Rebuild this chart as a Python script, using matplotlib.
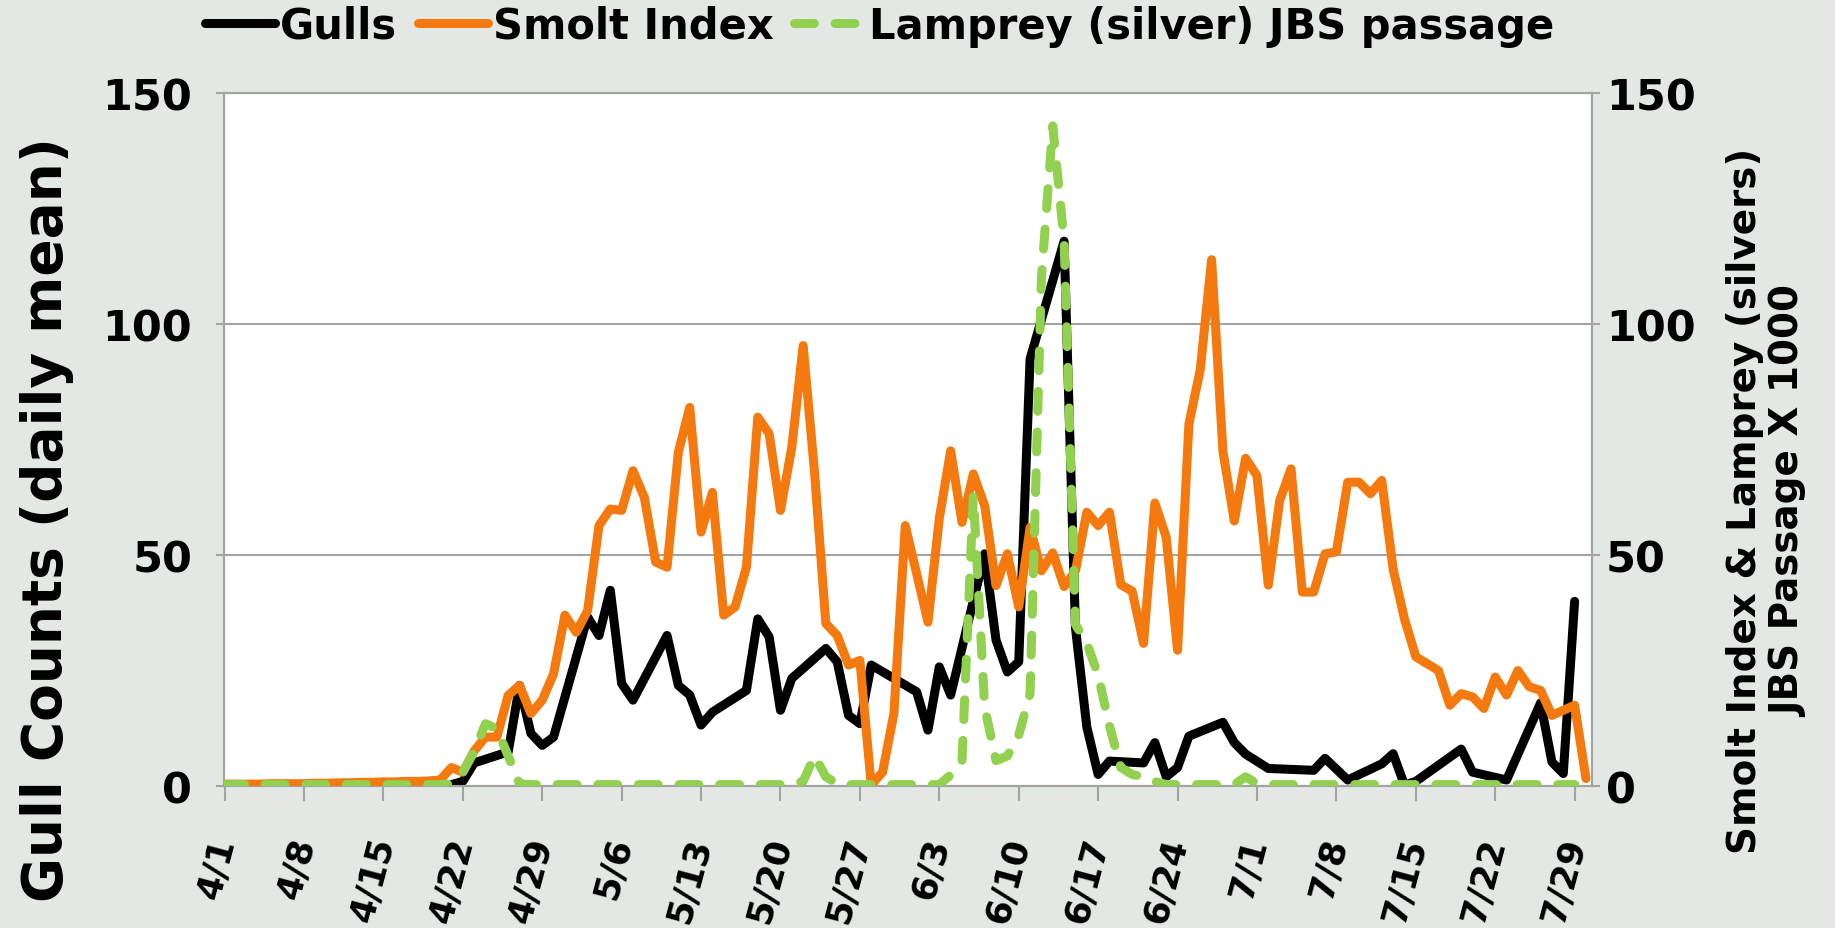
import matplotlib.pyplot as plt
from matplotlib.lines import Line2D

# ================================================
# Data (day 0 = 4/1, one value per day)
# ================================================
tick_days = list(range(0, 120, 7))
tick_labels = ['4/1', '4/8', '4/15', '4/22', '4/29', '5/6', '5/13', '5/20', '5/27',
               '6/3', '6/10', '6/17', '6/24', '7/1', '7/8', '7/15', '7/22', '7/29']

# Smolt index, 4/1 .. 7/30
smolt = [0.4, 0.4, 0.4, 0.4, 0.5, 0.5, 0.5, 0.5, 0.6, 0.6,
         0.7, 0.7, 0.8, 0.8, 0.9, 0.9, 1.0, 1.0, 1.1, 1.3,
         4.0, 3.0, 7.6, 10.6, 10.6, 19.6, 21.8, 15.7, 18.6, 24.3,
         37.0, 33.3, 38.0, 56.4, 60.0, 59.7, 68.3, 62.5, 48.5, 47.4,
         72.3, 82.0, 55.0, 63.6, 37.0, 38.8, 47.4, 79.9, 76.3, 59.7,
         73.4, 95.4, 68.0, 35.2, 32.6, 26.2, 27.2, 0.2, 3.0, 15.7,
         56.4, 46.0, 35.5, 58.0, 72.6, 57.1, 67.6, 60.7, 43.4, 50.3,
         38.8, 56.0, 46.6, 50.5, 43.2, 46.6, 59.3, 56.4, 59.3, 43.6,
         42.2, 30.9, 61.3, 53.9, 29.4, 78.4, 90.2, 114.0, 72.5, 57.4,
         71.0, 67.2, 43.5, 61.8, 68.7, 42.0, 42.0, 50.3, 50.7, 65.8,
         65.8, 63.3, 66.2, 47.0, 36.2, 28.0, 26.5, 25.0, 17.5, 20.0,
         19.3, 16.8, 23.6, 19.7, 25.0, 21.5, 20.7, 15.3, 16.4, 17.5,
         1.6]

# Lamprey (silver) JBS passage x 1000, 4/1 .. 7/29
lamprey = [0.3] * 20 + [
    0.5, 3.0, 7.5, 13.5, 12.4, 6.5, 0.5, 0.3, 0.3, 0.3,
    0.3, 0.3, 0.3, 0.3, 0.3, 0.3, 0.3, 0.3, 0.3, 0.3,
    0.3, 0.3, 0.3, 0.3, 0.3, 0.3, 0.3, 0.3, 0.3, 0.3,
    0.5, 1.0, 6.5, 2.0, 0.5, 0.3, 0.3, 0.3, 0.3, 0.3,
    0.3, 0.3, 0.3, 0.3, 2.4, 5.4, 63.0, 17.0, 5.5, 6.5,
    11.0, 20.0, 110.0, 143.0, 118.0, 35.0, 31.0, 24.0, 13.0, 4.0,
    2.5, 2.0, 1.0, 0.3, 0.3, 0.3, 0.3, 0.3, 0.3, 0.3,
    2.0, 0.5] + [0.3] * 28

# Gulls (daily mean); days without a count are skipped
gull_days = [19, 20, 21, 22, 25, 26, 27, 28, 29, 32, 33, 34, 35, 36, 39, 40, 41, 42,
             43, 46, 47, 48, 49, 50, 53, 54, 55, 56, 57, 61, 62, 63, 64, 67, 68, 69,
             70, 71, 72, 74, 75, 76, 77, 78, 81, 82, 83, 84, 85, 88, 89, 90, 92, 96,
             97, 99, 102, 103, 104, 105, 109, 110, 113, 116, 117, 118, 119]
gull_counts = [0.0, 0.3, 1.0, 5.0, 7.4, 21.8, 11.4, 8.8, 10.6, 36.6, 32.6, 42.4, 22.2,
               18.6, 32.6, 21.8, 19.7, 13.2, 16.0, 20.7, 36.2, 32.3, 16.4, 23.3, 29.8,
               26.9, 15.3, 13.5, 26.2, 20.4, 12.1, 25.8, 19.7, 50.3, 31.6, 24.7, 26.9,
               92.5, 101.0, 118.0, 34.3, 12.8, 2.5, 5.4, 5.0, 9.4, 2.0, 4.0, 10.8, 13.8,
               9.4, 6.9, 3.8, 3.4, 6.0, 1.3, 4.8, 7.0, 0.2, 1.0, 8.0, 3.0, 1.3, 18.0,
               5.2, 2.7, 40.0]

# ================================================
# Figure
# ================================================
plt.rcParams['font.family'] = ['DejaVu Sans']
plt.rcParams['font.weight'] = 'bold'

GREY = '#a3a3a3'
BLACK = '#000000'
ORANGE = '#f47a10'
GREEN = '#92d050'
LW = 6.5

fig = plt.figure(figsize=(18.35, 9.29), dpi=100)
fig.patch.set_facecolor('#e3e8e5')

ax = fig.add_axes([0.12207, 0.15285, 0.74550, 0.74543])
ax2 = ax.twinx()

ax.plot(gull_days, gull_counts, color=BLACK, lw=LW,
        solid_joinstyle='round', solid_capstyle='round', zorder=2)
ax2.plot(range(len(smolt)), smolt, color=ORANGE, lw=LW,
         solid_joinstyle='round', solid_capstyle='round', zorder=3)
ax2.plot(range(len(lamprey)), lamprey, color=GREEN, lw=LW, dashes=(2.2, 2.3),
         dash_capstyle='round', dash_joinstyle='round', zorder=4)

for a in (ax, ax2):
    a.set_xlim(-0.05, 120.53)
    a.set_ylim(0, 150)
    a.set_yticks([0, 50, 100, 150])
    for s in a.spines.values():
        s.set_color(GREY)
        s.set_linewidth(1.5)

ax.set_facecolor('white')
ax.set_axisbelow(True)
ax.grid(axis='y', color=GREY, lw=1.5)

ax.set_xticks(tick_days)
ax.set_xticklabels(tick_labels)
ax.tick_params(axis='x', direction='out', length=11, width=1.5, color=GREY,
               labelsize=25.5, pad=26)
for lab in ax.get_xticklabels():
    lab.set_fontweight('bold')
    lab.set_rotation(75)
    lab.set_rotation_mode('anchor')
    lab.set_ha('right')
    lab.set_va('center')

ax.tick_params(axis='y', direction='out', length=6, width=1.5, color=GREY,
               labelsize=31, pad=17)
ax2.tick_params(axis='y', direction='out', length=6, width=1.5, color=GREY,
                labelsize=31, pad=4)
for lab in ax.get_yticklabels() + ax2.get_yticklabels():
    lab.set_fontweight('bold')

# axis titles
fig.text(0.0256, 0.4403, 'Gull Counts (daily mean)', rotation=90,
         ha='center', va='center', fontsize=39.5, fontweight='bold')
fig.text(0.963, 0.4607, 'Smolt Index & Lamprey (silvers)\nJBS Passage X 1000',
         rotation=90, ha='center', va='center', multialignment='center',
         fontsize=28, fontweight='bold', linespacing=1.2)

# legend
handles = [
    Line2D([], [], color=BLACK, lw=LW, solid_capstyle='round'),
    Line2D([], [], color=ORANGE, lw=LW, solid_capstyle='round'),
    Line2D([], [], color=GREEN, lw=LW, dashes=(2.2, 2.3), dash_capstyle='round'),
]
fig.legend(handles, ['Gulls', 'Smolt Index', 'Lamprey (silver) JBS passage'],
           loc='center', bbox_to_anchor=(0.4793, 0.971), ncol=3, frameon=False,
           prop={'weight': 'bold', 'size': 30}, handlelength=1.7,
           handletextpad=0.1, columnspacing=0.5, borderaxespad=0)

fig.savefig('out.png', dpi=100, facecolor=fig.get_facecolor())
